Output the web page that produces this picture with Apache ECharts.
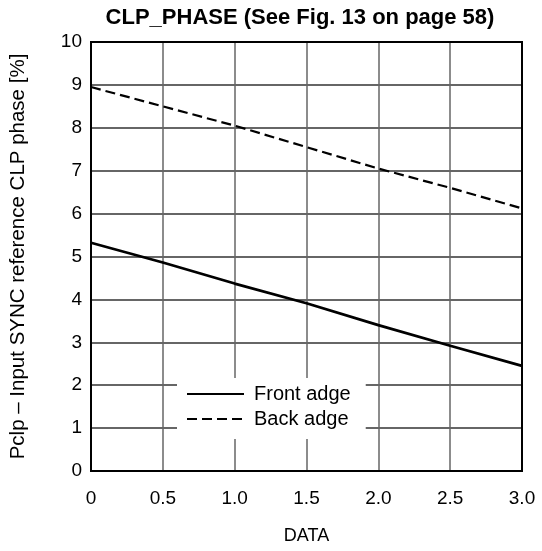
<html>
  <head>
    <meta http-equiv="Content-Type" content="text/html; charset=utf-8" />
    <title>CLP_PHASE</title>
    <style>
      html, body { margin: 0; padding: 0; background: white; }
      #chart { width: 542px; height: 551px; }
    </style>
  </head>
  <body>
    <div id="chart"></div>
    <script src="https://cdn.jsdelivr.net/npm/echarts@6/dist/echarts.min.js"></script>
    <script>
      var dataX = [0, 0.5, 1.0, 1.5, 2.0, 2.5, 3.0];
      var frontEdge = [5.32, 4.86, 4.37, 3.91, 3.40, 2.92, 2.45];
      var backEdge = [8.95, 8.5, 8.05, 7.55, 7.05, 6.6, 6.12];
      var xTickLabels = ['0', '0.5', '1.0', '1.5', '2.0', '2.5', '3.0'];

      function pairs(ys) {
        return dataX.map(function (x, i) { return [x, ys[i]]; });
      }

      var font = 'Liberation Sans, Arial, sans-serif';
      var chart = echarts.init(document.getElementById('chart'));
      chart.setOption({
        animation: false,
        title: {
          text: 'CLP_PHASE (See Fig. 13 on page 58)',
          left: 295, top: 2, textAlign: 'center',
          textStyle: { fontFamily: font, fontSize: 22, fontWeight: 'bold', color: '#000' }
        },
        grid: { left: 91, right: 20, top: 42, bottom: 80, outerBoundsMode: 'none', containLabel: false },
        legend: {
          left: 177, top: 378,
          orient: 'vertical',
          padding: [6, 15, 10, 9],
          itemGap: 5,
          itemWidth: 57, itemHeight: 14,
          backgroundColor: '#fff',
          itemStyle: { opacity: 0 },
          textStyle: { fontFamily: font, fontSize: 20, color: '#000', padding: [0, 0, 0, 5] },
          data: ['Front adge', 'Back adge']
        },
        xAxis: {
          type: 'value', min: 0, max: 3, interval: 0.5,
          name: 'DATA', nameLocation: 'middle', nameGap: 56,
          nameTextStyle: { fontFamily: font, fontSize: 18, color: '#000' },
          axisLine: { show: false },
          axisTick: { show: false },
          axisLabel: {
            margin: 18, fontFamily: font, fontSize: 19, color: '#000',
            formatter: function (v) { return xTickLabels[Math.round(v * 2)]; }
          },
          splitLine: { lineStyle: { color: '#666', width: 1.5 } }
        },
        yAxis: {
          type: 'value', min: 0, max: 10, interval: 1,
          name: 'Pclp \u2013 Input SYNC reference CLP phase [%]',
          nameLocation: 'middle', nameGap: 62,
          nameTextStyle: { fontFamily: font, fontSize: 20.5, color: '#000' },
          axisLine: { show: false },
          axisTick: { show: false },
          axisLabel: { margin: 9, fontFamily: font, fontSize: 19, color: '#000' },
          splitLine: { lineStyle: { color: '#333', width: 1.5 } }
        },
        series: [
          {
            name: 'Front adge', type: 'line', symbol: 'none',
            data: pairs(frontEdge), z: 3,
            lineStyle: { color: '#000', width: 2.8, type: 'solid' },
            itemStyle: { color: '#000' }
          },
          {
            name: 'Back adge', type: 'line', symbol: 'none',
            data: pairs(backEdge), z: 3,
            lineStyle: { color: '#000', width: 2.2, type: [10, 5] },
            itemStyle: { color: '#000' }
          }
        ],
        graphic: [{
          type: 'rect', silent: true, z: 1,
          shape: { x: 91, y: 42, width: 431, height: 429 },
          style: { fill: null, stroke: '#000', lineWidth: 2 }
        }]
      });
    </script>
  </body>
</html>
